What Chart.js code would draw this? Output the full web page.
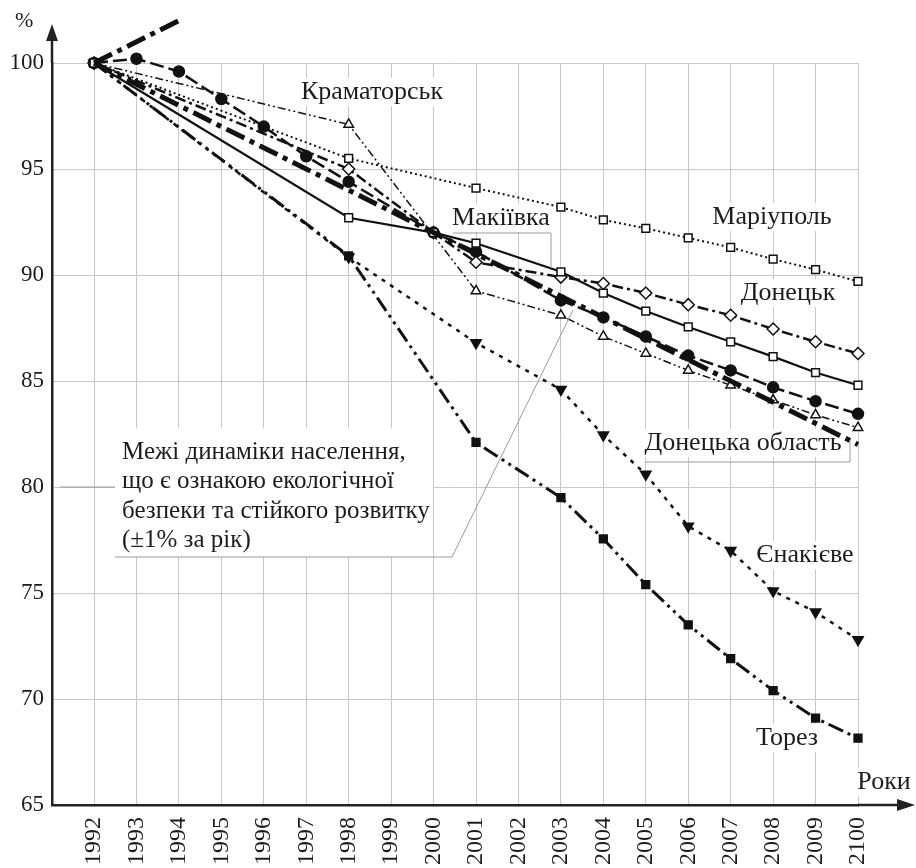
<!DOCTYPE html>
<html>
<head>
<meta charset="utf-8">
<script src="https://cdn.jsdelivr.net/npm/chart.js@4.4.0/dist/chart.umd.min.js"></script>
<style>
  html, body { margin: 0; padding: 0; background: #fff; }
</style>
</head>
<body>
<canvas id="myChart" width="916" height="868"></canvas>
<script>
// роки по осі X (останній підпис як в оригіналі - "2100")
const years = ['1992','1993','1994','1995','1996','1997','1998','1999','2000','2001',
               '2002','2003','2004','2005','2006','2007','2008','2009','2100'];
const yTicks = [65, 70, 75, 80, 85, 90, 95, 100];

// значення, % від 1992 року (null - немає точки)
const mariupol  = [100,null,null,null,null,null,95.5,null,null,94.1,null,93.2,92.6,92.2,91.75,91.3,90.75,90.25,89.7];
const donetsk   = [100,null,null,null,null,null,92.7,null,92.0,91.5,null,90.15,89.15,88.3,87.55,86.85,86.15,85.4,84.8];
const diamonds  = [100,null,null,null,null,null,95.0,null,92.0,90.6,null,89.9,89.6,89.15,88.6,88.1,87.45,86.85,86.3];
const circles   = [100,100.2,99.6,98.3,97.0,95.6,94.4,null,92.0,91.1,null,88.8,88.0,87.1,86.2,85.5,84.7,84.05,83.45];
const kramatorsk= [100,null,null,null,null,null,97.1,null,null,89.25,null,88.1,87.1,86.3,85.5,84.8,84.1,83.4,82.8];
const oblast    = [100,null,null,null,null,null,null,null,92.0,null,null,null,null,null,null,null,null,null,82.0];
const upperEdge = [100,null,102];
const yenakieve = [100,null,null,null,null,null,90.85,null,null,86.8,null,84.6,82.45,80.6,78.15,77.0,75.1,74.1,72.8];
const torez     = [100,null,null,null,null,null,90.9,null,null,82.1,null,79.5,77.55,75.4,73.5,71.9,70.4,69.1,68.15];

function pts(arr) {
  const out = [];
  arr.forEach((v, i) => { if (v !== null) out.push({ x: i, y: v }); });
  return out;
}

const serif = "'Liberation Serif', 'Times New Roman', serif";
const ink = '#1c1c1c';

// підписи на полі графіка
const notes = [
  { text: 'Краматорськ', x: 372, y: 92 },
  { text: 'Макіївка', x: 501, y: 218 },
  { text: 'Маріуполь', x: 772, y: 217 },
  { text: 'Донецьк', x: 788, y: 293 },
  { text: 'Донецька область', x: 743, y: 443 },
  { text: 'Єнакієве', x: 805, y: 555 },
  { text: 'Торез', x: 787, y: 738 },
  { text: 'Роки', x: 884, y: 782 }
];
const blockLines = ['Межі динаміки населення,', 'що є ознакою екологічної',
                    'безпеки та стійкого розвитку', '(±1% за рік)'];

const labelsPlugin = {
  id: 'labels',
  beforeDatasetsDraw(chart) {
    const ctx = chart.ctx;
    ctx.save();
    ctx.font = '26px ' + serif;
    ctx.fillStyle = '#fff';
    notes.forEach(n => {
      const w = ctx.measureText(n.text).width;
      ctx.fillRect(n.x - w / 2 - 3, n.y - 14, w + 6, 28);
    });
    ctx.fillRect(115, 428, 318, 129);
    ctx.restore();
  },
  afterDatasetsDraw(chart) {
    const ctx = chart.ctx;
    ctx.save();
    // виноски
    ctx.strokeStyle = '#9a9a9a';
    ctx.lineWidth = 1;
    ctx.beginPath();
    ctx.moveTo(453, 233); ctx.lineTo(551, 233); ctx.lineTo(551, 268);
    ctx.moveTo(645, 462); ctx.lineTo(850, 462); ctx.lineTo(850, 440);
    ctx.moveTo(60, 487); ctx.lineTo(115, 487);
    ctx.moveTo(115, 557); ctx.lineTo(452, 557); ctx.lineTo(573, 310);
    ctx.stroke();

    ctx.fillStyle = ink;
    ctx.font = '26px ' + serif;
    ctx.textAlign = 'center';
    ctx.textBaseline = 'middle';
    notes.forEach(n => ctx.fillText(n.text, n.x, n.y));
    ctx.textAlign = 'left';
    ctx.font = '25px ' + serif;
    blockLines.forEach((t, i) => ctx.fillText(t, 122, 452 + i * 29.5));
    ctx.font = '22px ' + serif;
    ctx.fillText('%', 15, 21);
    ctx.restore();
  },
  afterDraw(chart) {
    const ctx = chart.ctx;
    const a = chart.chartArea;
    ctx.save();
    ctx.strokeStyle = '#222';
    ctx.fillStyle = '#222';
    ctx.lineWidth = 2.5;
    ctx.beginPath();
    ctx.moveTo(a.left, a.top); ctx.lineTo(a.left, 38);
    ctx.moveTo(a.right, a.bottom); ctx.lineTo(900, a.bottom);
    ctx.stroke();
    ctx.beginPath();
    ctx.moveTo(a.left, 24); ctx.lineTo(a.left - 6, 41); ctx.lineTo(a.left + 6, 41); ctx.closePath();
    ctx.moveTo(915, a.bottom); ctx.lineTo(897, a.bottom - 6); ctx.lineTo(897, a.bottom + 6); ctx.closePath();
    ctx.fill();
    ctx.restore();
  }
};

function series(data, opts) {
  return Object.assign({
    data: pts(data),
    borderColor: '#111',
    backgroundColor: '#111',
    pointBorderColor: '#111',
    pointBackgroundColor: '#111',
    pointBorderWidth: 1.5,
    pointRadius: 5,
    borderWidth: 2,
    fill: false,
    tension: 0,
    clip: false
  }, opts);
}

const context = document.getElementById('myChart').getContext('2d');
const myChart = new Chart(context, {
  type: 'line',
  data: {
    datasets: [
      series(upperEdge, { borderWidth: 5, borderDash: [20, 6, 5, 6], pointRadius: 0 }),
      series(oblast, { borderWidth: 5, borderDash: [20, 6, 5, 6], pointRadius: 0 }),
      series(mariupol, { borderDash: [2, 3], pointStyle: 'rect', pointRadius: 5.5, pointBackgroundColor: '#fff' }),
      series(donetsk, { borderWidth: 2.2, pointStyle: 'rect', pointRadius: 5.5, pointBackgroundColor: '#fff' }),
      series(diamonds, { borderWidth: 2.5, borderDash: [11, 4, 3, 4], pointStyle: 'rectRot', pointRadius: 6, pointBackgroundColor: '#fff' }),
      series(circles, { borderWidth: 2.5, borderDash: [14, 5], pointStyle: 'circle', pointRadius: 5.5 }),
      series(kramatorsk, { borderWidth: 1.5, borderDash: [8, 3, 2, 3, 2, 3], pointStyle: 'triangle', pointRadius: 5.5, pointBackgroundColor: '#fff' }),
      series(yenakieve, { borderWidth: 2.5, borderDash: [4, 6], pointStyle: 'triangle', pointRotation: 180, pointRadius: 6 }),
      series(torez, { borderWidth: 3, borderDash: [16, 5, 3, 5, 3, 5], pointStyle: 'rect', pointRadius: 5.5 })
    ]
  },
  options: {
    responsive: false,
    maintainAspectRatio: false,
    animation: false,
    layout: { padding: { top: 63, right: 58, left: 0, bottom: 0 } },
    plugins: { legend: { display: false }, tooltip: { enabled: false } },
    scales: {
      x: {
        type: 'linear',
        min: -0.99,
        max: 18,
        afterFit: s => { s.height = 63; },
        afterBuildTicks: s => { s.ticks = years.map((y, i) => ({ value: i })); },
        grid: { color: '#c8c8c8', lineWidth: 1, drawTicks: false },
        border: { color: '#222', width: 2.5 },
        ticks: {
          autoSkip: false,
          minRotation: 90,
          maxRotation: 90,
          padding: 12,
          color: ink,
          font: { family: serif, size: 24 },
          callback: v => years[v]
        }
      },
      y: {
        min: 65,
        max: 100,
        afterFit: s => { s.width = 52; },
        afterBuildTicks: s => { s.ticks = yTicks.map(v => ({ value: v })); },
        grid: { color: '#c8c8c8', lineWidth: 1, drawTicks: false },
        border: { color: '#222', width: 2.5 },
        ticks: { padding: 8, color: ink, font: { family: serif, size: 23 } }
      }
    }
  },
  plugins: [labelsPlugin]
});
</script>
</body>
</html>
